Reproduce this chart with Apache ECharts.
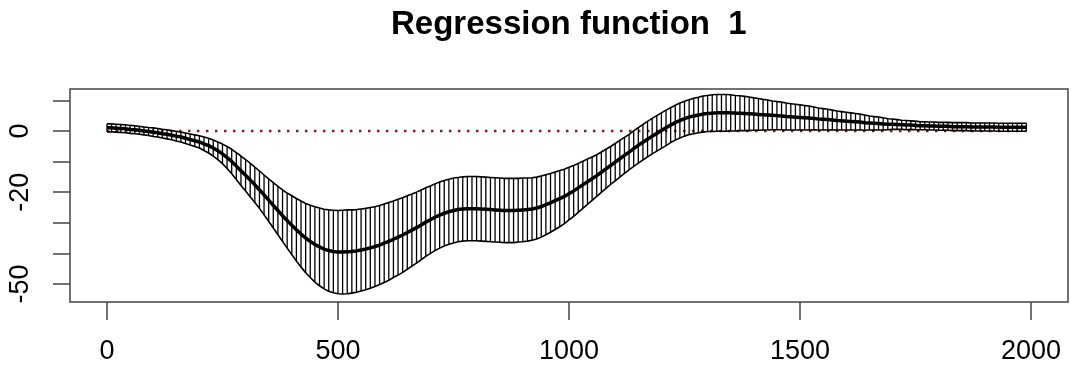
<!DOCTYPE html>
<html>
<head>
<meta charset="utf-8">
<script src="https://cdn.jsdelivr.net/npm/echarts@6/dist/echarts.min.js"></script>
<style>
  html, body { margin: 0; padding: 0; background: #fff; }
  #chart { width: 1071px; height: 372px; }
</style>
</head>
<body>
<div id="chart"></div>
<script>
// sample positions (step 10)
const xValues = [
  0, 10, 20, 30, 40, 50, 60, 70, 80, 90,
  100, 110, 120, 130, 140, 150, 160, 170, 180, 190,
  200, 210, 220, 230, 240, 250, 260, 270, 280, 290,
  300, 310, 320, 330, 340, 350, 360, 370, 380, 390,
  400, 410, 420, 430, 440, 450, 460, 470, 480, 490,
  500, 510, 520, 530, 540, 550, 560, 570, 580, 590,
  600, 610, 620, 630, 640, 650, 660, 670, 680, 690,
  700, 710, 720, 730, 740, 750, 760, 770, 780, 790,
  800, 810, 820, 830, 840, 850, 860, 870, 880, 890,
  900, 910, 920, 930, 940, 950, 960, 970, 980, 990,
  1000, 1010, 1020, 1030, 1040, 1050, 1060, 1070, 1080, 1090,
  1100, 1110, 1120, 1130, 1140, 1150, 1160, 1170, 1180, 1190,
  1200, 1210, 1220, 1230, 1240, 1250, 1260, 1270, 1280, 1290,
  1300, 1310, 1320, 1330, 1340, 1350, 1360, 1370, 1380, 1390,
  1400, 1410, 1420, 1430, 1440, 1450, 1460, 1470, 1480, 1490,
  1500, 1510, 1520, 1530, 1540, 1550, 1560, 1570, 1580, 1590,
  1600, 1610, 1620, 1630, 1640, 1650, 1660, 1670, 1680, 1690,
  1700, 1710, 1720, 1730, 1740, 1750, 1760, 1770, 1780, 1790,
  1800, 1810, 1820, 1830, 1840, 1850, 1860, 1870, 1880, 1890,
  1900, 1910, 1920, 1930, 1940, 1950, 1960, 1970, 1980, 1990
];

// fitted regression function
const fitValues = [
  1.0, 1.0, 0.9, 0.8, 0.7, 0.5, 0.4, 0.2, 0.0, -0.2,
  -0.4, -0.6, -0.9, -1.1, -1.4, -1.7, -2.0, -2.4, -2.8, -3.2,
  -3.6, -4.2, -4.8, -5.6, -6.5, -7.5, -8.7, -10.0, -11.5, -13.0,
  -14.5, -16.0, -17.6, -19.2, -20.9, -22.6, -24.3, -26.0, -27.7, -29.3,
  -30.8, -32.3, -33.7, -35.0, -36.1, -37.1, -37.9, -38.6, -39.1, -39.4,
  -39.6, -39.6, -39.5, -39.4, -39.2, -38.9, -38.6, -38.2, -37.8, -37.3,
  -36.7, -36.1, -35.4, -34.7, -34.0, -33.2, -32.4, -31.6, -30.7, -29.8,
  -29.0, -28.2, -27.5, -26.9, -26.4, -26.0, -25.7, -25.5, -25.4, -25.4,
  -25.4, -25.5, -25.6, -25.7, -25.8, -25.9, -26.0, -26.0, -26.0, -25.9,
  -25.8, -25.7, -25.5, -25.2, -24.7, -24.1, -23.5, -22.8, -22.1, -21.4,
  -20.5, -19.6, -18.6, -17.6, -16.6, -15.6, -14.6, -13.5, -12.4, -11.3,
  -10.2, -9.1, -8.0, -6.9, -5.8, -4.7, -3.7, -2.7, -1.7, -0.8,
  0.1, 1.0, 1.9, 2.7, 3.4, 4.0, 4.5, 4.9, 5.2, 5.5,
  5.7, 5.8, 5.9, 5.9, 5.9, 5.9, 5.8, 5.8, 5.7, 5.6,
  5.5, 5.4, 5.3, 5.2, 5.1, 5.0, 4.9, 4.7, 4.6, 4.5,
  4.4, 4.3, 4.2, 4.1, 3.9, 3.8, 3.7, 3.6, 3.4, 3.3,
  3.2, 3.1, 3.0, 2.9, 2.7, 2.6, 2.5, 2.4, 2.3, 2.2,
  2.2, 2.1, 2.0, 1.9, 1.9, 1.8, 1.7, 1.7, 1.6, 1.6,
  1.5, 1.5, 1.5, 1.4, 1.4, 1.4, 1.4, 1.3, 1.3, 1.3,
  1.3, 1.3, 1.3, 1.2, 1.2, 1.2, 1.2, 1.2, 1.2, 1.2
];

// half width of the confidence band
const bandHalf = [
  1.3, 1.3, 1.3, 1.3, 1.3, 1.3, 1.3, 1.3, 1.3, 1.3,
  1.4, 1.4, 1.4, 1.5, 1.5, 1.6, 1.6, 1.7, 1.8, 1.9,
  2.0, 2.2, 2.4, 2.6, 2.9, 3.2, 3.6, 4.0, 4.4, 4.8,
  5.1, 5.5, 5.8, 6.1, 6.5, 6.9, 7.4, 7.9, 8.4, 9.0,
  9.6, 10.2, 10.8, 11.3, 11.8, 12.3, 12.7, 13.0, 13.3, 13.5,
  13.6, 13.7, 13.7, 13.6, 13.5, 13.4, 13.3, 13.2, 13.0, 12.9,
  12.8, 12.7, 12.5, 12.4, 12.2, 12.0, 11.8, 11.6, 11.4, 11.2,
  11.0, 10.9, 10.8, 10.7, 10.6, 10.6, 10.5, 10.5, 10.5, 10.5,
  10.5, 10.5, 10.5, 10.5, 10.5, 10.5, 10.5, 10.5, 10.5, 10.4,
  10.4, 10.3, 10.2, 10.1, 10.0, 9.8, 9.6, 9.4, 9.2, 8.9,
  8.6, 8.3, 8.0, 7.7, 7.4, 7.1, 6.8, 6.6, 6.4, 6.2,
  6.1, 6.0, 5.9, 5.8, 5.8, 5.8, 5.8, 5.8, 5.8, 5.8,
  5.8, 5.8, 5.7, 5.7, 5.7, 5.7, 5.7, 5.8, 5.8, 5.9,
  5.9, 6.0, 6.0, 6.0, 6.0, 5.9, 5.8, 5.7, 5.6, 5.5,
  5.3, 5.2, 5.0, 4.9, 4.7, 4.6, 4.5, 4.4, 4.3, 4.2,
  4.1, 4.0, 3.9, 3.7, 3.6, 3.5, 3.4, 3.2, 3.1, 3.0,
  2.9, 2.8, 2.7, 2.6, 2.5, 2.3, 2.2, 2.1, 2.0, 1.8,
  1.7, 1.6, 1.5, 1.5, 1.4, 1.4, 1.3, 1.3, 1.3, 1.3,
  1.3, 1.3, 1.3, 1.3, 1.3, 1.3, 1.3, 1.3, 1.3, 1.3,
  1.3, 1.3, 1.3, 1.3, 1.3, 1.3, 1.3, 1.3, 1.3, 1.3
];

const xTicks = [0, 500, 1000, 1500, 2000];
const yTicks = [-50, -40, -30, -20, -10, 0, 10];
const yTickLabels = [-50, -20, 0];
const titleText = 'Regression function  1';

const font = "'Liberation Sans', Arial, Helvetica, sans-serif";

let fitData = [], upperData = [], lowerData = [], barData = [];
xValues.forEach((x, i) => {
  const lo = fitValues[i] - bandHalf[i];
  const hi = fitValues[i] + bandHalf[i];
  fitData.push([x, fitValues[i]]);
  upperData.push([x, hi]);
  lowerData.push([x, lo]);
  barData.push([x, lo, hi]);
});
const zeroData = [[xValues[0], 0], [xValues[xValues.length - 1], 0]];

var myChart = echarts.init(document.getElementById('chart'), null, { renderer: 'canvas' });

const option = {
  animation: false,
  backgroundColor: '#fff',
  title: {
    text: titleText,
    left: 386,
    top: 3,
    textStyle: { fontFamily: font, fontWeight: 'bold', fontSize: 33, color: '#000' }
  },
  grid: {
    left: 70,
    right: 3,
    top: 89,
    bottom: 70,
    show: true,
    borderColor: '#444',
    borderWidth: 1.5,
    backgroundColor: 'transparent'
  },
  xAxis: {
    type: 'value',
    min: -80,
    max: 2080,
    axisLine: { show: false, onZero: false },
    splitLine: { show: false },
    axisTick: {
      show: true,
      customValues: xTicks,
      length: 18,
      lineStyle: { color: '#444', width: 1.5 }
    },
    axisLabel: {
      customValues: xTicks,
      margin: 36,
      color: '#000',
      fontFamily: font,
      fontSize: 27,
      formatter: function (v) { return String(v); }
    }
  },
  yAxis: {
    type: 'value',
    min: -55.9,
    max: 13.7,
    axisLine: { show: false, onZero: false },
    splitLine: { show: false },
    axisTick: {
      show: true,
      customValues: yTicks,
      length: 17,
      lineStyle: { color: '#444', width: 1.5 }
    },
    axisLabel: {
      customValues: yTickLabels,
      rotate: 90,
      margin: 36,
      color: '#000',
      fontFamily: font,
      fontSize: 27,
      formatter: function (v) { return String(v); }
    }
  },
  series: [
    {
      // dotted zero reference
      name: 'zero',
      type: 'line',
      data: zeroData,
      symbol: 'none',
      z: 1,
      lineStyle: { color: '#8b1a1a', width: 2.5, type: [2.5, 6.5] }
    },
    {
      // vertical segments of the band
      name: 'band',
      type: 'custom',
      data: barData,
      z: 2,
      encode: { x: 0, y: [1, 2] },
      renderItem: function (params, api) {
        var p1 = api.coord([api.value(0), api.value(1)]);
        var p2 = api.coord([api.value(0), api.value(2)]);
        return {
          type: 'line',
          shape: { x1: p1[0], y1: p1[1], x2: p2[0], y2: p2[1] },
          style: { stroke: '#000', lineWidth: 1.3 }
        };
      }
    },
    {
      name: 'upper',
      type: 'line',
      data: upperData,
      symbol: 'none',
      z: 3,
      lineStyle: { color: '#000', width: 1.6 }
    },
    {
      name: 'lower',
      type: 'line',
      data: lowerData,
      symbol: 'none',
      z: 3,
      lineStyle: { color: '#000', width: 1.6 }
    },
    {
      name: 'fit',
      type: 'line',
      data: fitData,
      symbol: 'none',
      z: 4,
      lineStyle: { color: '#000', width: 3.5 }
    }
  ]
};
myChart.setOption(option);
</script>
</body>
</html>
